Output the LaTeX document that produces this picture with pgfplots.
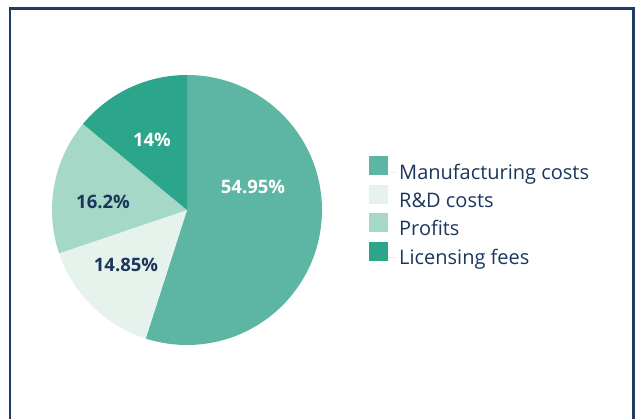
\documentclass[border=0pt]{standalone}
\usepackage{pgfplots}
\pgfplotsset{compat=1.18}
\usepackage{fontspec}
\setmainfont{Open Sans}
\definecolor{manuf}{HTML}{5DB5A3}
\definecolor{rnd}{HTML}{E5F3EC}
\definecolor{prof}{HTML}{A6D8C7}
\definecolor{lic}{HTML}{2BA68A}
\definecolor{navy}{HTML}{1B365D}
\definecolor{frame}{HTML}{1F3C66}
% shares in percent (clockwise from 12 o'clock)
\def\vA{54.95}\def\vB{14.85}\def\vC{16.2}\def\vD{14}
\pgfmathsetmacro\aA{90}
\pgfmathsetmacro\aB{\aA-\vA*3.6}
\pgfmathsetmacro\aC{\aB-\vB*3.6}
\pgfmathsetmacro\aD{\aC-\vC*3.6}
\pgfmathsetmacro\aE{\aD-\vD*3.6}
\def\cx{187}\def\cy{209}\def\rr{135}
\begin{document}
\begin{tikzpicture}[x=1pt,y=1pt]
\useasboundingbox (0,0) rectangle (635,419);
\clip (0,0) rectangle (635,419);
\begin{axis}[
  at={(0,0)}, anchor=south west,
  width=635pt, height=419pt, scale only axis,
  xmin=0, xmax=635, ymin=0, ymax=419,
  hide axis, clip=false,
  legend style={at={(axis cs:369,419-156)}, anchor=north west, draw=none, fill=none,
    font=\fontsize{20}{24}\selectfont, text=navy,
    row sep=2.2pt, inner sep=0pt,
    cells={anchor=west}},
  legend image code/.code={\fill[#1] (0pt,-3pt) rectangle (19pt,16pt); \path (0pt,0pt) -- (28pt,0pt);},
]
\addplot[draw=none, fill=manuf, domain=\aB:\aA, samples=120]
  ({\cx+\rr*cos(x)},{\cy+\rr*sin(x)}) -- (\cx,\cy) -- cycle;
\addplot[draw=none, fill=rnd, domain=\aC:\aB, samples=50]
  ({\cx+\rr*cos(x)},{\cy+\rr*sin(x)}) -- (\cx,\cy) -- cycle;
\addplot[draw=none, fill=prof, domain=\aD:\aC, samples=50]
  ({\cx+\rr*cos(x)},{\cy+\rr*sin(x)}) -- (\cx,\cy) -- cycle;
\addplot[draw=none, fill=lic, domain=\aE:\aD, samples=50]
  ({\cx+\rr*cos(x)},{\cy+\rr*sin(x)}) -- (\cx,\cy) -- cycle;
\legend{Manufacturing costs, R\&D costs, Profits, Licensing fees}
\node[font=\fontsize{18.5}{22}\selectfont\bfseries, text=white] at (axis cs:253,419-187) {54.95\%};
\node[font=\fontsize{18.5}{22}\selectfont\bfseries, text=white] at (axis cs:152,419-140) {14\%};
\node[font=\fontsize{18.5}{22}\selectfont\bfseries, text=navy] at (axis cs:103,419-202) {16.2\%};
\node[font=\fontsize{18.5}{22}\selectfont\bfseries, text=navy] at (axis cs:126,419-265) {14.85\%};
\draw[frame, line width=2.6pt] (axis cs:10,-10) -- (axis cs:10,419-8.5) -- (axis cs:633.5,419-8.5) -- (axis cs:633.5,-10);
\end{axis}
\end{tikzpicture}
\end{document}
